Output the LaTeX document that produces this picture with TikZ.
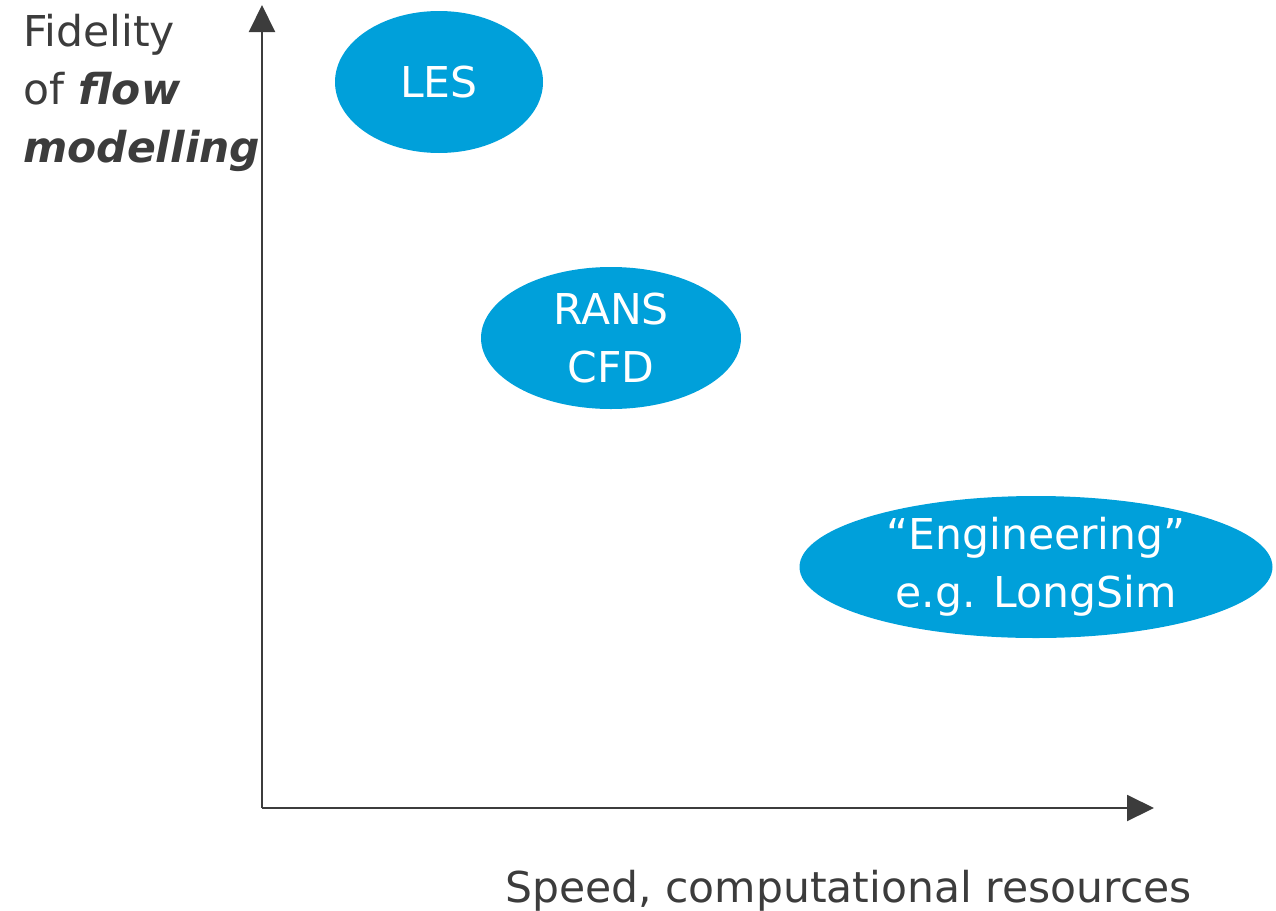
\documentclass[tikz,border=0pt]{standalone}
\usepackage{fontspec}
\setmainfont{DejaVu Sans}
\usetikzlibrary{shapes.geometric,arrows.meta}
\definecolor{blob}{RGB}{0,160,218}
\definecolor{axisgrey}{RGB}{60,60,60}
\begin{document}
\begin{tikzpicture}[x=1pt,y=-1pt,
  bigtext/.style={font=\fontsize{42.5}{58}\selectfont},
  blobnode/.style={ellipse,fill=blob,draw=none,inner sep=0pt,text=white,align=center,bigtext},
  axisline/.style={draw=axisgrey,line width=2pt,-{Triangle[length=27pt,width=26pt]}}]
\useasboundingbox (0,0) rectangle (1276,910);
\coordinate (origin) at (262,808);
\coordinate (ytip) at (262,5);
\coordinate (xtip) at (1154,808);
\draw[axisline] (origin) -- (ytip);
\draw[axisline] (origin) -- (xtip);
\node[blobnode,minimum width=208pt,minimum height=142pt] (les) at (439,82) {LES};
\node[blobnode,minimum width=260pt,minimum height=142pt] (rans) at (611,338) {RANS\\CFD};
\node[blobnode,minimum width=473pt,minimum height=142pt] (eng) at (1036,567) {\char"201C Engineering\char"201D\\e.g. LongSim};
\node[bigtext,text=axisgrey,align=left,anchor=north west,inner sep=0pt] (ylab) at (23,14) {Fidelity\\of \textbf{\textit{flow}}\\\textbf{\textit{modelling}}};
\node[bigtext,text=axisgrey,anchor=base west,inner sep=0pt] (xlab) at (505,902) {Speed, computational resources};
\end{tikzpicture}
\end{document}
